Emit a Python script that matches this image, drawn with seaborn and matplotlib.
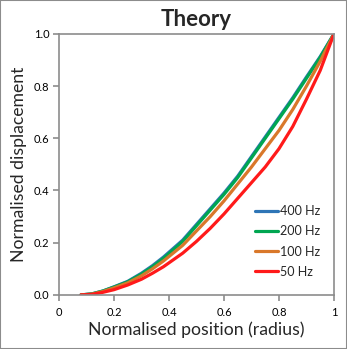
import matplotlib
matplotlib.use("Agg")
import matplotlib.pyplot as plt
import seaborn as sns
import pandas as pd

x_pos = [0.08, 0.12, 0.16, 0.2, 0.25, 0.3, 0.34, 0.38, 0.45, 0.5, 0.55, 0.6,
         0.65, 0.7, 0.75, 0.8, 0.85, 0.9, 0.95, 1.0]
disp_400 = [0.0, 0.004, 0.015, 0.031, 0.052, 0.083, 0.112, 0.145, 0.21, 0.27,
            0.33, 0.39, 0.455, 0.53, 0.605, 0.68, 0.755, 0.835, 0.913, 1.0]
disp_200 = [0.0, 0.004, 0.015, 0.03, 0.05, 0.08, 0.108, 0.14, 0.205, 0.265,
            0.325, 0.385, 0.45, 0.525, 0.6, 0.675, 0.75, 0.83, 0.91, 1.0]
disp_100 = [0.0, 0.003, 0.013, 0.027, 0.046, 0.073, 0.1, 0.13, 0.19, 0.245,
            0.3, 0.36, 0.425, 0.49, 0.56, 0.63, 0.71, 0.8, 0.895, 1.0]
disp_50 = [0.0, 0.002, 0.01, 0.02, 0.038, 0.06, 0.083, 0.108, 0.16, 0.205,
           0.255, 0.31, 0.37, 0.43, 0.49, 0.56, 0.645, 0.75, 0.86, 1.0]
labels = ["400 Hz", "200 Hz", "100 Hz", "50 Hz"]
colors = ["#2E75B6", "#00A651", "#D9782A", "#FF1A1A"]

df = pd.concat([
    pd.DataFrame({"x": x_pos, "y": v, "series": lab})
    for v, lab in zip([disp_400, disp_200, disp_100, disp_50], labels)
])

sns.set_style("white")
plt.rcParams["font.family"] = ["Lato", "DejaVu Sans"]

fig = plt.figure(figsize=(3.47, 3.49), dpi=100)
ax = fig.add_axes([0.170, 0.155, 0.7925, 0.748])
sns.lineplot(data=df, x="x", y="y", hue="series", hue_order=labels,
             palette=colors, linewidth=2.3, ax=ax, sort=False)

ax.set_xlim(0, 1)
ax.set_ylim(0, 1)
ax.set_xticks([0, 0.2, 0.4, 0.6, 0.8, 1.0])
ax.set_xticklabels(["0", "0.2", "0.4", "0.6", "0.8", "1"])
ax.set_yticks([0, 0.2, 0.4, 0.6, 0.8, 1.0])
ax.set_yticklabels(["0.0", "0.2", "0.4", "0.6", "0.8", "1.0"])
for s in ax.spines.values():
    s.set_color("#8c8c8c")
    s.set_linewidth(1.2)
ax.tick_params(axis="both", direction="out", length=4, width=1.2, color="#8c8c8c",
               labelsize=8, labelcolor="black", pad=3)
ax.tick_params(axis="x", pad=5)
ax.tick_params(axis="both", which="both", bottom=True, left=True)
ax.set_xlabel("Normalised position (radius)", fontsize=12.7, labelpad=2)
ax.set_ylabel("Normalised displacement", fontsize=12.7, labelpad=5)
ax.set_title("Theory", fontsize=16, fontweight="bold", pad=6)

leg = ax.legend(loc="lower right", frameon=False, fontsize=9, handlelength=1.9,
                handletextpad=0.1, labelspacing=0.65, borderaxespad=0,
                bbox_to_anchor=(0.967, 0.047))

fig.patches.append(plt.Rectangle((0, 0), 1, 1, transform=fig.transFigure,
                                 fill=False, edgecolor="#8c8c8c", linewidth=1.5))
fig.savefig("out.png", dpi=100)
